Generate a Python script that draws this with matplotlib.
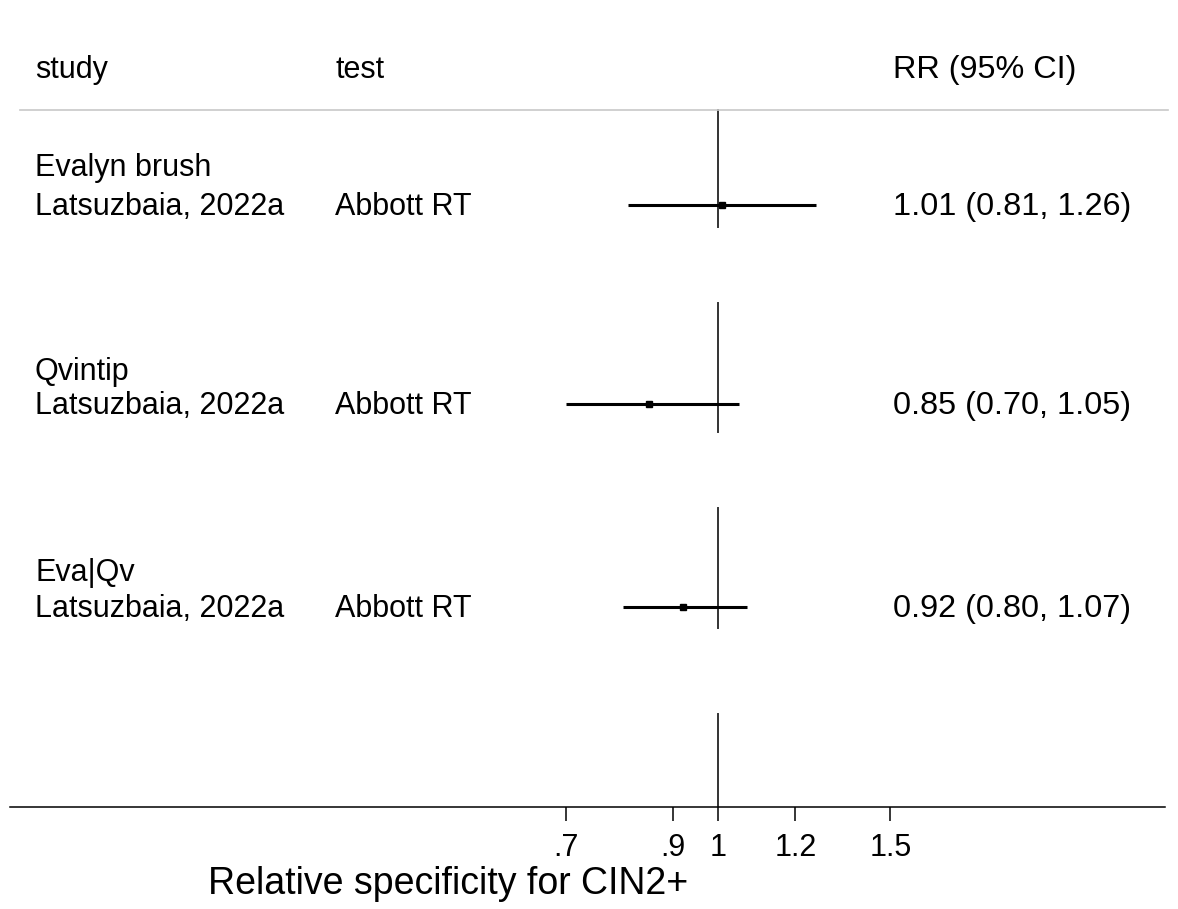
import matplotlib
matplotlib.use('Agg')
import matplotlib.pyplot as plt
import matplotlib.transforms as mtrans
import numpy as np

plt.rcParams['font.family'] = ['Liberation Sans', 'DejaVu Sans']

# data
groups = ['Evalyn brush', 'Qvintip', 'Eva|Qv']
studies = ['Latsuzbaia, 2022a', 'Latsuzbaia, 2022a', 'Latsuzbaia, 2022a']
tests = ['Abbott RT', 'Abbott RT', 'Abbott RT']
rr = [1.01, 0.85, 0.92]
lo = [0.81, 0.70, 0.80]
hi = [1.26, 1.05, 1.07]
ticks = [0.7, 0.9, 1, 1.2, 1.5]
tick_labels = ['.7', '.9', '1', '1.2', '1.5']

# layout, in pixel rows of the 1178x909 picture
W, H = 1178, 909
x0, x1 = 10, 1165          # ends of the axis line
y_axis = 807
head_y = 70
group_y = [168, 372, 573]
row_y = [205, 404, 607]
null_segs = [(110, 227), (303, 432), (508, 628), (714, 807)]
px_per_ln = 425.0
x_null = 718

fig = plt.figure(figsize=(W / 100, H / 100), dpi=100)
ax = fig.add_axes([x0 / W, (H - y_axis) / H, (x1 - x0) / W, y_axis / H])
ax.set_xscale('log')
ax.set_xlim(np.exp((x0 - x_null) / px_per_ln), np.exp((x1 - x_null) / px_per_ln))
ax.set_ylim(y_axis, 0)

for s in ['top', 'left', 'right']:
    ax.spines[s].set_visible(False)
ax.spines['bottom'].set_linewidth(1.1)
ax.set_yticks([])
ax.set_xticks(ticks)
ax.set_xticklabels(tick_labels, fontsize=22)
ax.minorticks_off()
ax.tick_params(axis='x', direction='out', length=10, width=1.1, pad=9)

# null line, broken between rows
for a, b in null_segs:
    ax.plot([1, 1], [a, b], color='#333333', lw=1.4, zorder=1)

# CIs and point estimates
for i in range(len(rr)):
    ax.plot([lo[i], hi[i]], [row_y[i], row_y[i]], color='black', lw=2.2,
            solid_capstyle='butt', zorder=2)
    ax.plot(rr[i], row_y[i], marker='s', color='black', markersize=5, zorder=3)

# text columns
tr = mtrans.blended_transform_factory(fig.transFigure, ax.transData)
fs = 22
fs_rr = 23.3
col_study, col_test, col_rr = 35 / W, 335 / W, 893 / W
dy = 2
ax.text(col_study, head_y, 'study', transform=tr, fontsize=fs, va='center')
ax.text(col_test, head_y, 'test', transform=tr, fontsize=fs, va='center')
ax.text(col_rr, head_y, 'RR (95% CI)', transform=tr, fontsize=fs_rr, va='center')

for i in range(len(rr)):
    ax.text(col_study, group_y[i], groups[i], transform=tr, fontsize=fs, va='center')
    ax.text(col_study, row_y[i] + dy, studies[i], transform=tr, fontsize=fs, va='center')
    ax.text(col_test, row_y[i] + dy, tests[i], transform=tr, fontsize=fs, va='center')
    lab = '%.2f (%.2f, %.2f)' % (rr[i], lo[i], hi[i])
    ax.text(col_rr, row_y[i] + dy, lab, transform=tr, fontsize=fs_rr, va='center')

# header separator
ax.plot([20 / W, 1168 / W], [110, 110], transform=tr, color='#c8c8c8', lw=1.2,
        clip_on=False)

fig.text(448 / W, 1 - 884 / H, 'Relative specificity for CIN2+', fontsize=27,
         ha='center', va='center')

fig.savefig('out.png', dpi=100)
